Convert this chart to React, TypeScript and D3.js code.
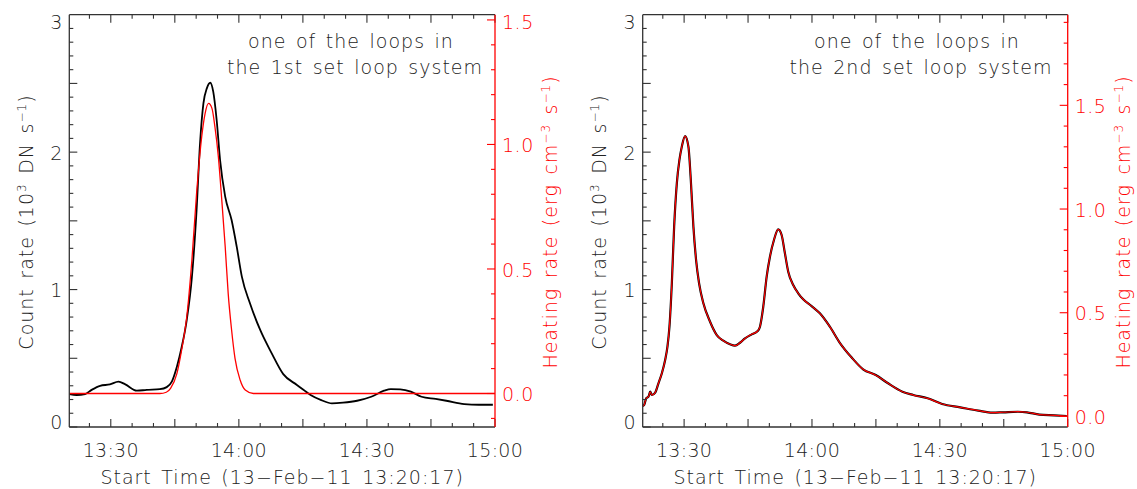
import React from "react";
import * as d3 from "d3";

// ---- data (time in minutes after 13:00) ----
const leftTime = [20.3, 22.0, 24.0, 25.5, 27.5, 29.8, 31.8, 33.4, 36.1, 38.4, 41.5, 43.1, 44.3, 45.5, 46.6, 47.8, 49.0, 50.1, 50.9, 51.7, 52.5, 53.3, 54.0, 54.8, 55.6, 56.8, 58.3, 59.5, 60.7, 62.6, 65.0, 67.7, 70.4, 73.6, 75.2, 76.8, 79.3, 81.8, 84.4, 87.7, 91.0, 94.0, 95.6, 97.8, 100.3, 102.8, 106.1, 108.6, 112.8, 116.2, 119.5];
const leftCount = [0.24, 0.233, 0.24, 0.27, 0.3, 0.31, 0.33, 0.31, 0.264, 0.27, 0.275, 0.29, 0.33, 0.44, 0.58, 0.78, 1.09, 1.58, 2.06, 2.355, 2.464, 2.505, 2.44, 2.234, 1.943, 1.676, 1.506, 1.312, 1.094, 0.9, 0.706, 0.536, 0.385, 0.306, 0.269, 0.233, 0.196, 0.172, 0.177, 0.191, 0.22, 0.264, 0.276, 0.274, 0.257, 0.22, 0.204, 0.191, 0.167, 0.162, 0.162];

const leftHeatTime = [20.3, 41.5, 43.0, 44.0, 45.5, 46.6, 47.8, 49.0, 50.1, 51.3, 52.1, 52.9, 53.7, 54.4, 55.2, 56.0, 56.8, 57.5, 58.3, 59.1, 60.3, 61.5, 63.4, 120];
const leftHeat = [0, 0, 0.005, 0.021, 0.081, 0.175, 0.308, 0.536, 0.804, 1.031, 1.125, 1.165, 1.145, 1.07, 0.95, 0.777, 0.59, 0.402, 0.255, 0.141, 0.054, 0.014, 0, 0];

const rightTime = [20.33, 20.63, 21.1, 21.64, 22.04, 22.44, 23.21, 23.98, 24.78, 25.55, 26.09, 26.56, 27.12, 27.66, 28.29, 28.9, 29.46, 30.23, 31.01, 31.57, 32.18, 32.81, 33.51, 34.52, 36.09, 37.66, 39.2, 40.77, 41.94, 43.11, 44.29, 45.85, 47.26, 47.8, 48.57, 49.37, 50.14, 51.08, 52.08, 52.88, 53.65, 54.43, 55.6, 56.77, 57.94, 59.91, 61.85, 64.19, 66.53, 69.27, 71.99, 74.96, 77.85, 81.22, 83.77, 87.14, 90.54, 94.78, 99.02, 102.37, 104.94, 108.34, 110.44, 113.37, 116.79, 119.77];
const rightCount = [0.153, 0.16, 0.209, 0.221, 0.257, 0.233, 0.25, 0.318, 0.391, 0.487, 0.584, 0.73, 1.046, 1.458, 1.773, 1.943, 2.04, 2.117, 2.04, 1.797, 1.458, 1.215, 1.046, 0.9, 0.766, 0.669, 0.628, 0.602, 0.592, 0.613, 0.645, 0.674, 0.698, 0.73, 0.875, 1.094, 1.239, 1.361, 1.438, 1.397, 1.264, 1.13, 1.033, 0.973, 0.929, 0.88, 0.827, 0.73, 0.613, 0.507, 0.42, 0.378, 0.318, 0.257, 0.233, 0.209, 0.167, 0.143, 0.119, 0.104, 0.107, 0.111, 0.107, 0.09, 0.085, 0.08];
const rightHeat = [0.05, 0.055, 0.087, 0.095, 0.119, 0.103, 0.115, 0.16, 0.208, 0.272, 0.336, 0.433, 0.642, 0.915, 1.124, 1.236, 1.301, 1.352, 1.301, 1.14, 0.915, 0.754, 0.642, 0.545, 0.457, 0.392, 0.365, 0.348, 0.341, 0.355, 0.376, 0.396, 0.412, 0.433, 0.529, 0.674, 0.77, 0.851, 0.902, 0.875, 0.787, 0.698, 0.633, 0.594, 0.565, 0.532, 0.497, 0.433, 0.355, 0.285, 0.227, 0.199, 0.16, 0.119, 0.103, 0.087, 0.06, 0.044, 0.028, 0.018, 0.02, 0.023, 0.02, 0.009, 0.005, 0.002];

const xMinorTicks = [25, 30, 35, 40, 45, 50, 55, 60, 65, 70, 75, 80, 85, 90, 95, 100, 105, 110, 115, 120];
const xMajorTicks = [30, 45, 60, 75, 90, 105, 120];
const xLabelTicks = [30, 60, 90, 120];
const xLabels = ["13:30", "14:00", "14:30", "15:00"];
const countTicks = [0, 1, 2, 3];
const heatLabelTicks = [0, 0.5, 1.0, 1.5];
const leftHeatMinor = [-0.1, 0, 0.1, 0.2, 0.3, 0.4, 0.5, 0.6, 0.7, 0.8, 0.9, 1.0, 1.1, 1.2, 1.3, 1.4, 1.5];
const rightHeatMinor = [0, 0.1, 0.2, 0.3, 0.4, 0.5, 0.6, 0.7, 0.8, 0.9, 1.0, 1.1, 1.2, 1.3, 1.4, 1.5, 1.6, 1.7, 1.8, 1.9];
const countMinor = d3.range(0, 30).map((i) => i / 10);

const START_MIN = 20 + 17 / 60; // 13:20:17
const END_MIN = 120;

const TOP = 14.7;
const BOTTOM = 427;
const FONT = "'DejaVu Sans', sans-serif";
const AX = "#333";
const RED = "#ff0000";
const LS = 1.0; // letter spacing for words
const WS = 2.5;

type PanelProps = {
  x0: number;
  x1: number;
  heatDomain: [number, number];
  heatMinor: number[];
  time: number[];
  count: number[];
  heatTime: number[];
  heat: number[];
  overlay: boolean;
  line1: string;
  line2: string;
  annCx: number;
  countTitleX: number;
  heatTitleX: number;
};

function Panel(p: PanelProps) {
  const x = d3.scaleLinear().domain([START_MIN, END_MIN]).range([p.x0, p.x1]);
  const y = d3.scaleLinear().domain([0, 3]).range([BOTTOM, TOP]);
  const yh = d3.scaleLinear().domain(p.heatDomain).range([BOTTOM, TOP]);
  const line = d3
    .line<[number, number]>()
    .x((d) => x(d[0]))
    .y((d) => y(d[1]))
    .curve(d3.curveMonotoneX);
  const hline = d3
    .line<[number, number]>()
    .x((d) => x(d[0]))
    .y((d) => yh(d[1]))
    .curve(d3.curveMonotoneX);
  const countPts = p.time.map((t, i) => [t, p.count[i]] as [number, number]);
  const heatPts = p.heatTime.map((t, i) => [t, p.heat[i]] as [number, number]);
  const clampY = (v: number) => Math.min(Math.max(v, TOP + 7), BOTTOM - 5.5);
  const cx = (p.x0 + p.x1) / 2;
  const midY = 222;
  const wordStyle = { letterSpacing: LS, wordSpacing: WS } as React.CSSProperties;
  return (
    <g>
      {/* curves */}
      <path d={line(countPts) || ""} fill="none" stroke="#000" strokeWidth={p.overlay ? 2.2 : 1.8} />
      <path d={hline(heatPts) || ""} fill="none" stroke={RED} strokeWidth={p.overlay ? 1.2 : 1.3} />

      {/* box: top, left, bottom */}
      <line x1={p.x0} x2={p.x1} y1={TOP} y2={TOP} stroke={AX} strokeWidth={1.3} />
      <line x1={p.x0} x2={p.x1} y1={BOTTOM} y2={BOTTOM} stroke={AX} strokeWidth={1.3} />
      <line x1={p.x0} x2={p.x0} y1={TOP} y2={BOTTOM} stroke={AX} strokeWidth={1.3} />

      {/* x ticks */}
      {xMinorTicks.map((t) => {
        const len = xMajorTicks.includes(t) ? 8 : 4;
        return (
          <g key={"xt" + t}>
            <line x1={x(t)} x2={x(t)} y1={BOTTOM} y2={BOTTOM - len} stroke={AX} strokeWidth={1.1} />
            <line x1={x(t)} x2={x(t)} y1={TOP} y2={TOP + len} stroke={AX} strokeWidth={1.1} />
          </g>
        );
      })}
      {xLabelTicks.map((t, i) => (
        <text key={"xl" + t} x={x(t)} y={457} textAnchor="middle" fontSize={19} fill="#222" fontFamily={FONT} fontWeight={200} style={{ letterSpacing: 0.3 }}>
          {xLabels[i]}
        </text>
      ))}
      <text x={cx} y={484} textAnchor="middle" fontSize={19} fill="#222" fontFamily={FONT} fontWeight={200} style={wordStyle}>
        Start Time (13−Feb−11 13:20:17)
      </text>

      {/* left y ticks */}
      {countMinor.map((v) => {
        const major = Math.abs(v * 2 - Math.round(v * 2)) < 1e-6;
        const len = major ? 8 : 4;
        return <line key={"yt" + v} x1={p.x0} x2={p.x0 + len} y1={y(v)} y2={y(v)} stroke={AX} strokeWidth={1.1} />;
      })}
      {countTicks.map((v) => (
        <text key={"yl" + v} x={p.x0 - 7} y={clampY(y(v)) + 1} dy="0.35em" textAnchor="end" fontSize={19} fill="#222" fontFamily={FONT} fontWeight={200}>
          {v}
        </text>
      ))}
      <text transform={`translate(${p.countTitleX},${midY}) rotate(-90)`} textAnchor="middle" fontSize={19} fill="#222" fontFamily={FONT} fontWeight={200} style={wordStyle}>
        Count rate (10
        <tspan fontSize={12} dy="-0.6em">3</tspan>
        <tspan dy="0.38em"> DN s</tspan>
        <tspan fontSize={12} dy="-0.6em">−1</tspan>
        <tspan dy="0.38em">)</tspan>
      </text>

      {/* right red axis */}
      <line x1={p.x1} x2={p.x1} y1={TOP} y2={BOTTOM} stroke={RED} strokeWidth={1.3} />
      {p.heatMinor.map((v) => {
        const major = Math.abs(v * 2 - Math.round(v * 2)) < 1e-6;
        const len = major ? 8 : 4;
        return <line key={"ht" + v} x1={p.x1} x2={p.x1 - len} y1={yh(v)} y2={yh(v)} stroke={RED} strokeWidth={1.1} />;
      })}
      {heatLabelTicks.map((v) => (
        <text key={"hl" + v} x={p.x1 + 7} y={clampY(yh(v)) + 1} dy="0.35em" textAnchor="start" fontSize={19} fill={RED} fontFamily={FONT} fontWeight={200} style={{ letterSpacing: 0.5 }}>
          {v.toFixed(1)}
        </text>
      ))}
      <text transform={`translate(${p.heatTitleX},${midY}) rotate(-90)`} textAnchor="middle" fontSize={19} fill={RED} fontFamily={FONT} fontWeight={200} style={wordStyle}>
        Heating rate (erg cm
        <tspan fontSize={12} dy="-0.6em">−3</tspan>
        <tspan dy="0.38em"> s</tspan>
        <tspan fontSize={12} dy="-0.6em">−1</tspan>
        <tspan dy="0.38em">)</tspan>
      </text>

      {/* annotation */}
      <text x={p.annCx} y={48} textAnchor="middle" fontSize={19} fill="#222" fontFamily={FONT} fontWeight={200} style={wordStyle}>
        {p.line1}
      </text>
      <text x={p.annCx + 4} y={74} textAnchor="middle" fontSize={19} fill="#222" fontFamily={FONT} fontWeight={200} style={wordStyle}>
        {p.line2}
      </text>
    </g>
  );
}

export default function App() {
  return (
    <svg width={1137} height={489} style={{ position: "absolute", left: 0, top: 0, background: "#fff" }}>
      <rect width={1137} height={489} fill="#fff" />
      <Panel
        x0={69.3}
        x1={495}
        heatDomain={[-0.1345, 1.521]}
        heatMinor={leftHeatMinor}
        time={leftTime}
        count={leftCount}
        heatTime={leftHeatTime}
        heat={leftHeat}
        overlay={false}
        line1="one of the loops in"
        line2="the 1st set loop system"
        annCx={351}
        countTitleX={33}
        heatTitleX={557}
      />
      <Panel
        x0={642.7}
        x1={1067.7}
        heatDomain={[-0.051, 1.937]}
        heatMinor={rightHeatMinor}
        time={rightTime}
        count={rightCount}
        heatTime={rightTime}
        heat={rightHeat}
        overlay={true}
        line1="one of the loops in"
        line2="the 2nd set loop system"
        annCx={917}
        countTitleX={606}
        heatTitleX={1130}
      />
    </svg>
  );
}
